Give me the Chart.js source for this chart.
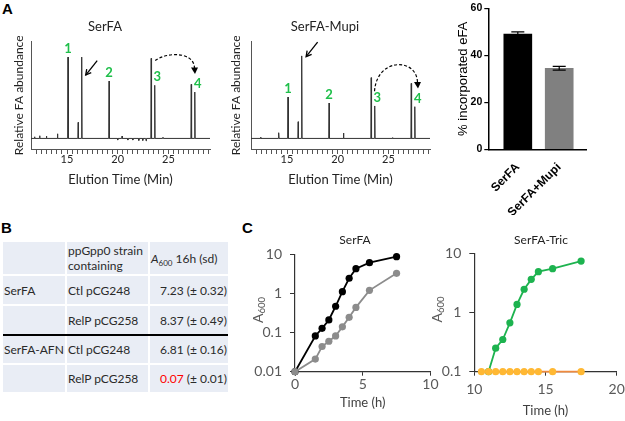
<!DOCTYPE html>
<html>
<head>
<meta charset="utf-8">
<script src="https://cdn.jsdelivr.net/npm/chart.js@4.4.0/dist/chart.umd.min.js"></script>
<style>
  body { margin: 0; width: 625px; height: 421px; position: relative; background: #fff; overflow: hidden; font-family: Lato, sans-serif; }
  canvas { position: absolute; }
  .tag { position: absolute; font: bold 15px "Liberation Sans", Arial, sans-serif; color: #000; line-height: 15px; }
  .tbl { position: absolute; left: 3px; top: 242px; display: grid; grid-template-columns: 62px 81px 78px;
         grid-template-rows: 32px 28px 28px 27px 27px; gap: 2px; font: 12px Lato, sans-serif; color: #2a2a2a; }
  .tbl div { background: #e9edf5; display: flex; align-items: center; padding: 0 1px; white-space: nowrap; line-height: 15px; }
  .tbl .r { justify-content: flex-end; }
  .tbl sub { font-size: 8px; vertical-align: -3px; line-height: 0; }
  .rule { position: absolute; left: 3px; top: 334px; width: 225px; height: 1.5px; background: #000; }
  .red { color: #f00; }
</style>
</head>
<body>
<div class="tag" style="left:2px;top:1px">A</div>
<div class="tag" style="left:1px;top:220px">B</div>
<div class="tag" style="left:242px;top:220px">C</div>

<canvas id="chromL" width="227" height="195" style="left:0;top:0"></canvas>
<canvas id="chromM" width="254" height="195" style="left:220px;top:0"></canvas>
<canvas id="bars" width="185" height="215" style="left:440px;top:0"></canvas>
<div class="tbl" id="tbl"></div>
<div class="rule"></div>
<canvas id="growL" width="220" height="196" style="left:245px;top:225px"></canvas>
<canvas id="growR" width="232" height="196" style="left:425px;top:225px"></canvas>

<script>
// ---- panel A: chromatograms (retention time in min, relative abundance) ----
const chromTimes = [15.1, 16.1, 16.45, 19.15, 23.3, 23.65, 27.25, 27.6];
const serfaPeaks = [100, 19.7, 100, 70.5, 98.4, 65.3, 66.5, 57];
const mupiPeaks = [50.9, 20.5, 101.4, 43.5, 74.7, 39.9, 67.6, 39];
const serfaNoiseTimes = [11.8, 12.3, 12.97, 14.06, 20.0, 20.43, 21.0, 21.49, 22.08, 22.47, 22.8, 24.46];
const serfaNoise = [2, 3.3, 2.9, 5.7, -2, 2.9, -2, -2, -2.5, -2.5, -3, 1.5];
const mupiNoiseTimes = [12.4, 14.18, 20.57, 25.4];
const mupiNoise = [1.6, 7, 6.6, 1];
const peakLabels = ['1', '2', '3', '4'];
const peakLabelIndex = [0, 3, 5, 7];
const chromTickLabels = [15, 20, 25];

// ---- panel A: incorporated eFA ----
const barCategories = ['SerFA', 'SerFA+Mupi'];
const barValues = [49, 34.5];
const barErrors = [1.0, 0.8];
const barTicks = [0, 20, 40, 60];

// ---- panel B: table ----
const tableHeader = ['', 'ppGpp0 strain<br>containing', '<i>A</i><sub>600</sub> 16h (sd)'];
const tableStrain = ['SerFA', '', 'SerFA-AFN', ''];
const tablePlasmid = ['Ctl pCG248', 'RelP pCG258', 'Ctl pCG248', 'RelP pCG258'];
const tableA600 = ['7.23', '8.37', '6.81', '0.07'];
const tableSd = ['0.32', '0.49', '0.16', '0.01'];

// ---- panel C: growth curves ----
const serfaTimes = [0, 1.5, 2, 2.5, 3, 3.5, 4, 4.5, 5.5, 7.5];
const serfaCtl = [0.01, 0.082, 0.128, 0.21, 0.47, 1.11, 2.44, 4.3, 6.1, 8.7];
const serfaRelp = [0.01, 0.021, 0.044, 0.06, 0.082, 0.14, 0.245, 0.44, 1.2, 3.27];
const tricTimesGrow = [11, 11.5, 12, 12.5, 13, 13.5, 14, 14.5, 15.5, 17.5];
const tricGrow = [0.1, 0.25, 0.35, 0.67, 1.37, 2.47, 3.63, 4.9, 5.5, 7.4];
const tricTimesFlat = [10.5, 11, 11.5, 12, 12.5, 13, 13.5, 14, 14.5, 15.5, 17.5];
const tricFlat = [0.1, 0.1, 0.1, 0.1, 0.1, 0.1, 0.1, 0.1, 0.1, 0.1, 0.1];
const growLTicksX = [0, 5, 10];
const growLTicksY = [0.01, 0.1, 1, 10];
const growRTicksX = [10, 15, 20];
const growRTicksY = [0.1, 1, 10];

const LATO = 'Lato, sans-serif';
const ARIAL = '"Liberation Sans", Arial, sans-serif';

// table
(function () {
  const tbl = document.getElementById('tbl');
  let html = tableHeader.map(h => `<div><span>${h}</span></div>`).join('');
  tableStrain.forEach((s, i) => {
    const val = i === 3 ? `<span class="red">${tableA600[i]}</span>` : tableA600[i];
    html += `<div><span>${s}</span></div><div><span>${tablePlasmid[i]}</span></div>` +
            `<div class="r"><span>${val} (± ${tableSd[i]})</span></div>`;
  });
  tbl.innerHTML = html;
})();

// chromatogram trace: every peak is a narrow spike on the baseline
function buildTrace(times, heights, noiseTimes, noise, xmin, xmax) {
  const peaks = times.map((t, i) => [t, heights[i]])
    .concat(noiseTimes.map((t, i) => [t, noise[i]]))
    .sort((a, b) => a[0] - b[0]);
  const pts = [{ x: xmin, y: 0 }];
  peaks.forEach(([t, h]) => {
    pts.push({ x: t - 0.035, y: 0 }, { x: t, y: h }, { x: t + 0.035, y: 0 });
  });
  pts.push({ x: xmax, y: 0 });
  return pts;
}

function drawArrowHead(ctx, x, y, angle, len) {
  ctx.beginPath();
  ctx.moveTo(x + len * Math.cos(angle + 0.5), y + len * Math.sin(angle + 0.5));
  ctx.lineTo(x, y);
  ctx.lineTo(x + len * Math.cos(angle - 0.5), y + len * Math.sin(angle - 0.5));
  ctx.stroke();
}

function chromNotes(heights, spec) {
  return {
    id: 'chromNotes',
    afterDatasetsDraw(chart) {
      const { ctx, scales: { x, y } } = chart;
      const pos = peakLabelIndex.map((pi, k) => ({
        x: x.getPixelForValue(chromTimes[pi]) + spec.labelDx[k],
        y: y.getPixelForValue(heights[pi]) - 8
      }));
      ctx.save();
      ctx.fillStyle = '#1fbf4a';
      ctx.font = 'bold 13px ' + LATO;
      ctx.textAlign = 'center';
      ctx.textBaseline = 'middle';
      pos.forEach((p, k) => ctx.fillText(peakLabels[k], p.x, p.y));

      // solid arrow at the unlabelled peak
      const ax = x.getPixelForValue(chromTimes[2]) + spec.tip[0];
      const ay = y.getPixelForValue(heights[2]) + spec.tip[1];
      ctx.strokeStyle = '#000';
      ctx.lineWidth = 1.3;
      ctx.beginPath();
      ctx.moveTo(ax + 11.5, ay - 14.5);
      ctx.lineTo(ax, ay);
      ctx.stroke();
      drawArrowHead(ctx, ax, ay, Math.atan2(-14.5, 11.5), 6);

      // dashed curved arrow from peak 3 to peak 4
      const sx = pos[2].x + spec.arcStart[0], sy = pos[2].y + spec.arcStart[1];
      const ex = pos[3].x + spec.arcEnd[0], ey = pos[3].y + spec.arcEnd[1];
      const top = Math.min(sy, ey) - spec.lift;
      ctx.setLineDash([3, 2]);
      ctx.lineWidth = 1.2;
      ctx.beginPath();
      ctx.moveTo(sx, sy);
      ctx.bezierCurveTo(sx + spec.k * (ex - sx), top, ex, top, ex, ey - 4);
      ctx.stroke();
      ctx.setLineDash([]);
      ctx.fillStyle = '#000';
      ctx.beginPath();
      ctx.moveTo(ex - 3.5, ey - 5);
      ctx.lineTo(ex + 3.5, ey - 5);
      ctx.lineTo(ex + 0.5, ey + 1.5);
      ctx.closePath();
      ctx.fill();
      ctx.restore();
    }
  };
}

function makeChrom(id, title, heights, noiseTimes, noise, opts) {
  const xmin = 11.45, xmax = 29.1;
  new Chart(document.getElementById(id), {
    type: 'line',
    data: {
      datasets: [{
        data: buildTrace(chromTimes, heights, noiseTimes, noise, xmin, xmax),
        borderColor: '#333',
        borderWidth: 1,
        pointRadius: 0,
        tension: 0
      }]
    },
    options: {
      responsive: false,
      animation: false,
      layout: { padding: { top: 19, left: 0, right: opts.padRight, bottom: 0 } },
      plugins: {
        legend: { display: false },
        tooltip: { enabled: false },
        title: { display: true, text: title, color: '#222', font: { family: LATO, size: 13, weight: 'normal' }, padding: { top: 0, bottom: 7 } }
      },
      scales: {
        x: {
          type: 'linear', min: xmin, max: xmax,
          afterFit: s => { s.height = 46; },
          afterBuildTicks: s => {
            const t = [];
            for (let v = 12; v <= 29; v += 0.5) t.push({ value: v });
            s.ticks = t;
          },
          ticks: {
            autoSkip: false, maxRotation: 0, padding: 0, color: '#222',
            font: { family: LATO, size: 11, lineHeight: 1 },
            callback: v => chromTickLabels.includes(v) ? String(v) : ''
          },
          grid: { display: true, drawOnChartArea: false, drawTicks: true, tickLength: 5, color: '#555' },
          border: { color: '#555' },
          title: { display: true, text: 'Elution Time (Min)', color: '#222', font: { family: LATO, size: 13 }, padding: { top: 0, bottom: 7.2 } }
        },
        y: {
          min: -13, max: 119,
          afterFit: s => { s.width = 31; },
          ticks: { display: false },
          grid: { display: false },
          border: { color: '#555' },
          title: { display: true, text: 'Relative FA abundance', color: '#222', font: { family: LATO, size: 12 }, padding: { top: opts.titlePad, bottom: 0 } }
        }
      }
    },
    plugins: [chromNotes(heights, opts)]
  });
}

makeChrom('chromL', 'SerFA', serfaPeaks, serfaNoiseTimes, serfaNoise, {
  padRight: 17, titlePad: 12,
  labelDx: [0, 0, 2.5, 3], tip: [4, 18],
  arcStart: [-2, -16.7], arcEnd: [-3.3, -11.6], lift: 9, k: 0.3
});
makeChrom('chromM', 'SerFA-Mupi', mupiPeaks, mupiNoiseTimes, mupiNoise, {
  padRight: 44, titlePad: 8.5,
  labelDx: [0, 0, 2.5, 3], tip: [4.4, 0.7],
  arcStart: [-2.7, -6.7], arcEnd: [-0.3, -11.7], lift: 29.7, k: 0.05
});

// ---- bar chart with error bars ----
const errorBars = {
  id: 'errorBars',
  afterDatasetsDraw(chart) {
    const { ctx, scales: { y } } = chart;
    const meta = chart.getDatasetMeta(0);
    ctx.save();
    ctx.strokeStyle = '#000';
    ctx.lineWidth = 1.2;
    meta.data.forEach((bar, i) => {
      const hi = y.getPixelForValue(barValues[i] + barErrors[i]);
      const lo = y.getPixelForValue(barValues[i] - barErrors[i]);
      ctx.beginPath();
      ctx.moveTo(bar.x, hi); ctx.lineTo(bar.x, lo);
      ctx.moveTo(bar.x - 6.5, hi); ctx.lineTo(bar.x + 6.5, hi);
      ctx.moveTo(bar.x - 6.5, lo); ctx.lineTo(bar.x + 6.5, lo);
      ctx.stroke();
    });
    ctx.restore();
  }
};

new Chart(document.getElementById('bars'), {
  type: 'bar',
  data: {
    datasets: [{
      data: barValues.map((v, i) => ({ x: i, y: v })),
      backgroundColor: ['#000000', '#808080'],
      borderWidth: 0,
      barThickness: 28
    }]
  },
  options: {
    responsive: false,
    animation: false,
    layout: { padding: { top: 5, left: 0, right: 38.3, bottom: 0 } },
    plugins: { legend: { display: false }, tooltip: { enabled: false } },
    scales: {
      x: {
        type: 'linear', min: -0.713, max: 1.664, offset: false,
        afterFit: s => { s.height = 65.7; },
        afterBuildTicks: s => { s.ticks = barCategories.map((c, i) => ({ value: i })); },
        ticks: {
          autoSkip: false, minRotation: 45, maxRotation: 45, padding: 3, color: '#000',
          font: { family: ARIAL, size: 12, weight: 'bold' },
          callback: (v, i) => barCategories[i]
        },
        grid: { display: false },
        border: { color: '#000', width: 1.5 }
      },
      y: {
        min: 0, max: 60,
        afterFit: s => { s.width = 48.3; },
        afterBuildTicks: s => { s.ticks = barTicks.map(v => ({ value: v })); },
        ticks: { color: '#000', padding: 2, font: { family: ARIAL, size: 10.5, weight: 'bold' } },
        grid: { display: true, drawOnChartArea: false, drawTicks: true, tickLength: 4, color: '#000', lineWidth: 1.2 },
        border: { color: '#000', width: 1.5 },
        title: { display: true, text: '% incorporated eFA', color: '#000', font: { family: ARIAL, size: 13 }, padding: { top: 15.2, bottom: 0 } }
      }
    }
  },
  plugins: [errorBars]
});

// ---- growth curves ----
const a600Label = {
  id: 'a600Label',
  afterDraw(chart) {
    const { ctx, chartArea } = chart;
    const cx = chartArea.left - 37;
    const cy = (chartArea.top + chartArea.bottom) / 2 - 3;
    ctx.save();
    ctx.translate(cx, cy);
    ctx.rotate(-Math.PI / 2);
    ctx.fillStyle = '#595959';
    ctx.textBaseline = 'middle';
    ctx.font = '14px ' + LATO;
    const wA = ctx.measureText('A').width;
    ctx.font = '9.5px ' + LATO;
    const wS = ctx.measureText('600').width;
    const x0 = -(wA + wS) / 2;
    ctx.font = '14px ' + LATO;
    ctx.fillText('A', x0, 0);
    ctx.font = '9.5px ' + LATO;
    ctx.fillText('600', x0 + wA, 4);
    ctx.restore();
  }
};

function growSeries(times, vals, color, lineColor) {
  return {
    data: times.map((t, i) => ({ x: t, y: vals[i] })),
    borderColor: lineColor,
    backgroundColor: color,
    pointBackgroundColor: color,
    pointBorderWidth: 0,
    pointRadius: 3.6,
    borderWidth: 1.8,
    tension: 0,
    clip: false
  };
}

function makeGrowth(id, title, datasets, xTicks, yTicks, o) {
  new Chart(document.getElementById(id), {
    type: 'line',
    data: { datasets },
    options: {
      responsive: false,
      animation: false,
      layout: { padding: { top: 7.8, left: 0, right: 0, bottom: 0 } },
      plugins: {
        legend: { display: false },
        tooltip: { enabled: false },
        title: { display: true, text: title, color: '#222', font: { family: LATO, size: 12, weight: 'normal' }, padding: { top: 0, bottom: o.titleGap } }
      },
      scales: {
        x: {
          type: 'linear', min: xTicks[0], max: xTicks[xTicks.length - 1],
          afterFit: s => { s.height = 49.3; },
          afterBuildTicks: s => { s.ticks = xTicks.map(v => ({ value: v })); },
          ticks: { color: '#595959', padding: o.xTickPad, maxRotation: 0, font: { family: LATO, size: 14 } },
          grid: { display: true, drawOnChartArea: false, tickLength: 4, color: '#333' },
          border: { color: '#333', width: 1.2 },
          title: { display: true, text: 'Time (h)', color: '#404040', font: { family: LATO, size: 13 }, padding: { top: 0, bottom: o.xTitlePad } }
        },
        y: {
          type: 'logarithmic', min: yTicks[0], max: yTicks[yTicks.length - 1],
          afterFit: s => { s.width = o.yWidth; },
          afterBuildTicks: s => { s.ticks = yTicks.map(v => ({ value: v })); },
          ticks: { color: '#595959', padding: 8, font: { family: LATO, size: 14 }, callback: (v, i) => String(yTicks[i]) },
          grid: { display: true, drawOnChartArea: false, tickLength: 5, color: '#333' },
          border: { color: '#333', width: 1.2 }
        },
        // empty right-hand strip so the chart title sits where the original has it
        yPad: {
          type: 'linear', position: 'right', display: true,
          afterFit: s => { s.width = o.rightGap; },
          ticks: { display: false }, grid: { display: false }, border: { display: false }
        }
      }
    },
    plugins: [a600Label]
  });
}

makeGrowth('growL', 'SerFA', [
  growSeries(serfaTimes, serfaRelp, '#8c8c8c', '#8c8c8c'),
  growSeries(serfaTimes, serfaCtl, '#000000', '#000000')
], growLTicksX, growLTicksY, { titleGap: 7.1, yWidth: 50, rightGap: 34.6, xTickPad: 0.2, xTitlePad: 10.8 });

makeGrowth('growR', 'SerFA-Tric', [
  growSeries(tricTimesFlat, tricFlat, '#ffb833', '#f08a3e'),
  growSeries(tricTimesGrow, tricGrow, '#1db34f', '#1db34f')
], growRTicksX, growRTicksY, { titleGap: 6.1, yWidth: 49.3, rightGap: 40.3, xTickPad: 5.4, xTitlePad: 2.3 });
</script>
</body>
</html>
